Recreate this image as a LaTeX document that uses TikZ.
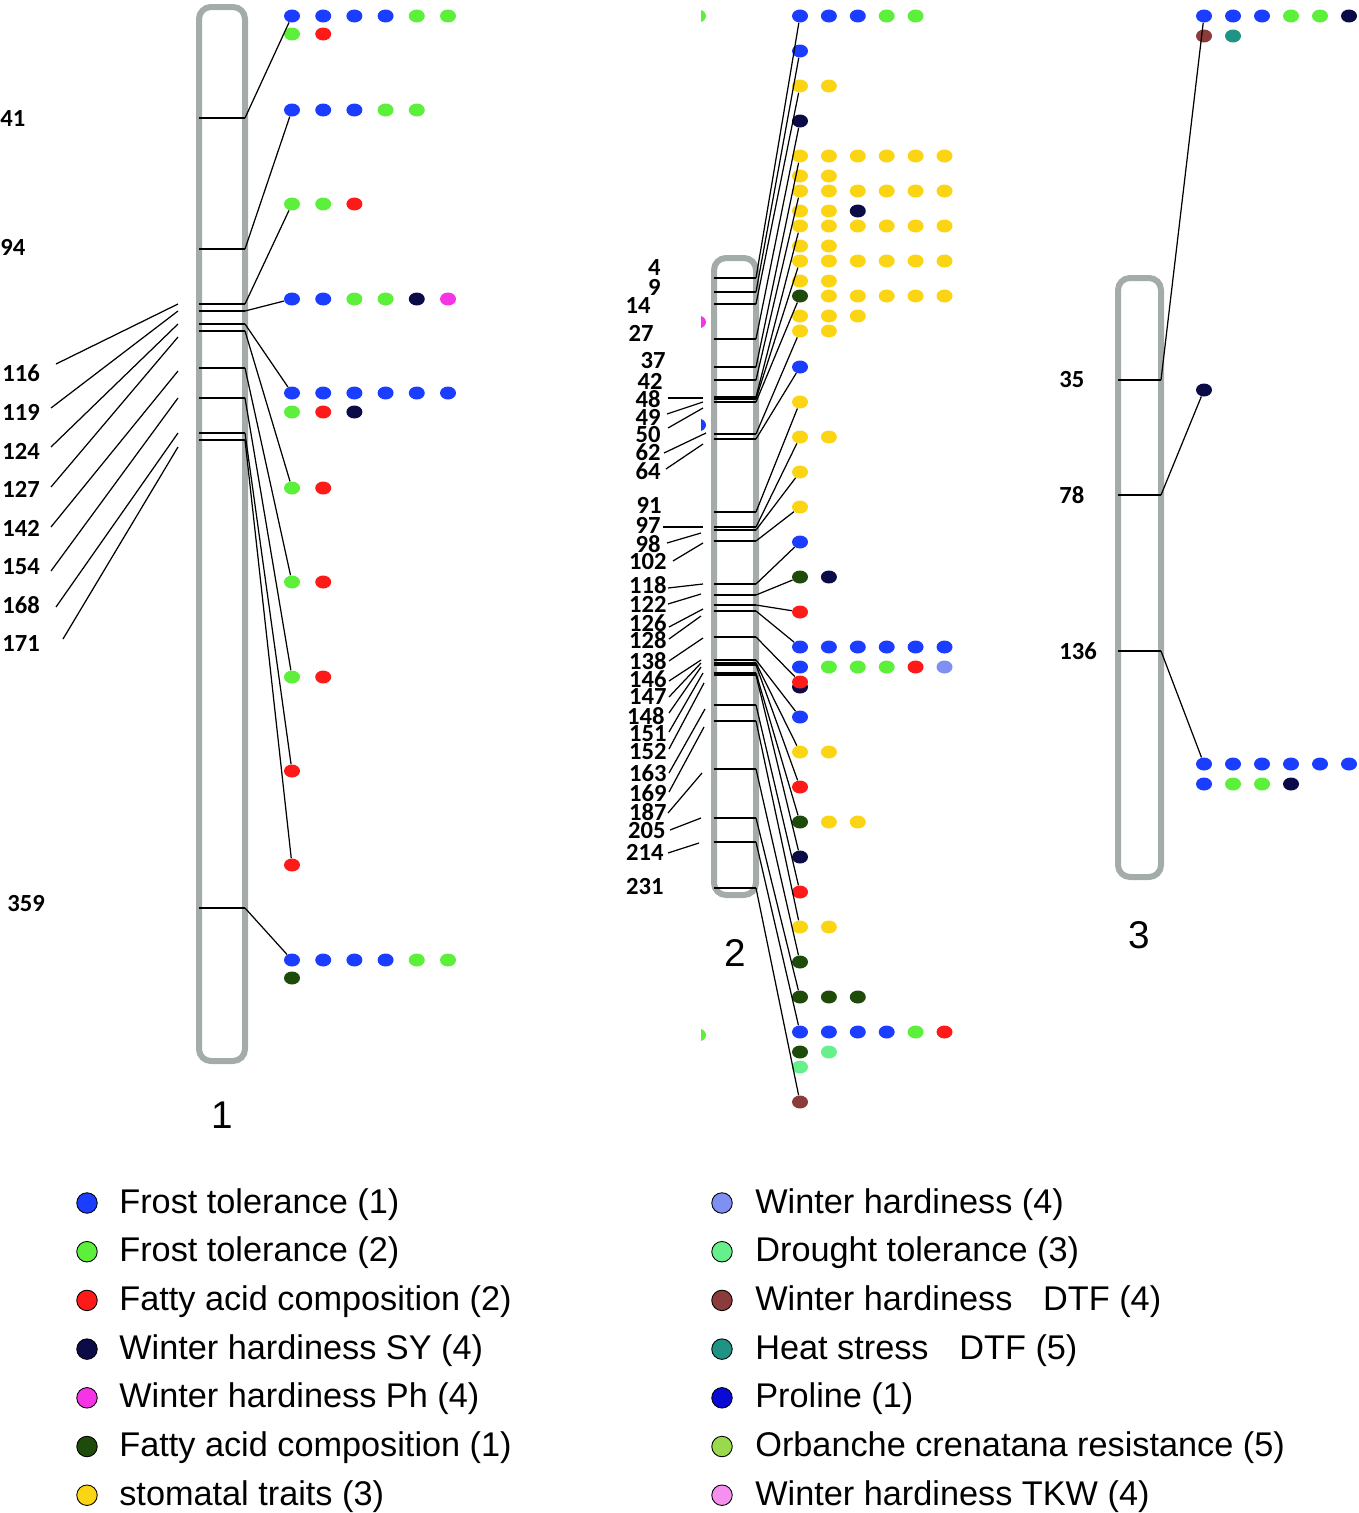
\documentclass[tikz,border=0pt]{standalone}
\usepackage{fontspec}
\setmainfont{Liberation Sans}
\newfontfamily\numfont{Carlito}
\usetikzlibrary{shapes.geometric}

\definecolor{ftone}{HTML}{1A3DFF}
\definecolor{fttwo}{HTML}{5CF03A}
\definecolor{facred}{HTML}{FF1A1A}
\definecolor{whsy}{HTML}{0B0B48}
\definecolor{whph}{HTML}{F534E6}
\definecolor{facgreen}{HTML}{1E4A0A}
\definecolor{stomatal}{HTML}{FBD414}
\definecolor{whfour}{HTML}{8090F2}
\definecolor{drought}{HTML}{66F08C}
\definecolor{whdtf}{HTML}{8C3B3B}
\definecolor{heatdtf}{HTML}{1F9485}
\definecolor{proline}{HTML}{0A0AD6}
\definecolor{orbanche}{HTML}{9AD94C}
\definecolor{whtkw}{HTML}{F590F0}
\definecolor{chromgray}{HTML}{A4ACA9}

\tikzset{
  qtl/.style={ellipse, fill=#1, minimum width=3.2mm, minimum height=2.6mm, inner sep=0pt},
  chrom/.style={draw=chromgray, line width=1.2mm, rounded corners=2.4mm},
  marker/.style={line width=0.9pt},
  link/.style={line width=0.7pt},
  locus/.style={font=\numfont\bfseries\fontsize{14}{14}\selectfont, inner sep=0pt},
  keydot/.style={circle, draw=black, line width=0.5pt, fill=#1, minimum size=4.1mm, inner sep=0pt},
  keytext/.style={anchor=base west, font=\fontsize{19.5}{19.5}\selectfont, inner sep=0pt},
  chromname/.style={font=\fontsize{22}{22}\selectfont, inner sep=0pt}
}

\begin{document}
\begin{tikzpicture}[x=0.2mm, y=-0.2mm]
\useasboundingbox (0,0) rectangle (1358,1513);

% chromosomes
\draw[chrom] (199,7) rectangle (245,1061);
\draw[chrom] (714,258) rectangle (756,895);
\draw[chrom] (1118,278) rectangle (1161,877);

\node[chromname] (n1) at (222,1115) {1};
\node[chromname] (n2) at (735,953) {2};
\node[chromname] (n3) at (1139,935) {3};

% chromosome 1
\foreach \p/\y in {41/118,94/249,116/304,119/311,124/324,127/331,142/368,154/398,168/433,171/440,359/908}
{
  \coordinate (a1-\p) at (199,\y);
  \coordinate (m1-\p) at (245,\y);
  \draw[marker] (a1-\p) -- (m1-\p);
}

\node[locus, anchor=west] (p1-41) at (0,119) {41};
\node[locus, anchor=west] (p1-94) at (0,247) {94};
\foreach \p/\y in {116/373,119/412,124/451,127/489,142/528,154/567,168/605,171/644}
  \node[locus, anchor=west] (p1-\p) at (2,\y) {\p};
\node[locus, anchor=west] (p1-359) at (7,904) {359};

\foreach \p/\xa/\ya/\yb in {116/56/364/304,119/51/408/311,124/51/447/324,127/51/487/337,142/51/527/371,154/51/571/398,168/56/607/433,171/63/639/447}
{
  \coordinate (l1-\p) at (\xa,\ya);
  \coordinate (e1-\p) at (178,\yb);
  \draw[link] (l1-\p) -- (e1-\p);
}

\foreach \y/\n/\cols in {16/a/{ftone,ftone,ftone,ftone,fttwo,fttwo}, 34/a2/{fttwo,facred},
  110/b/{ftone,ftone,ftone,fttwo,fttwo}, 204/c/{fttwo,fttwo,facred},
  299/d/{ftone,ftone,fttwo,fttwo,whsy,whph}, 393/e/{ftone,ftone,ftone,ftone,ftone,ftone},
  412/e2/{fttwo,facred,whsy}, 488/f/{fttwo,facred}, 582/g/{fttwo,facred}, 677/h/{fttwo,facred},
  771/i/{facred}, 865/j/{facred}, 960/k/{ftone,ftone,ftone,ftone,fttwo,fttwo}, 978/k2/{facgreen}}
{
  \foreach \c [count=\k] in \cols
    \node[qtl=\c] (c1\n-\k) at ({292+31.2*(\k-1)},\y) {};
}

\foreach \p/\n in {41/a,94/b,116/c,119/d,124/e,127/f,142/g,154/h,168/i,171/j,359/k}
  \draw[link] (m1-\p) -- (c1\n-1);

% chromosome 2
\foreach \p/\y in {4/278,9/292,14/304,27/339,37/367,42/380,48/397,49/399,50/402,62/434,64/439,91/512,97/527,98/530,102/541,118/584,122/595,126/605,128/611,138/637,146/660,147/663,148/665,151/673,152/675,163/705,169/721,187/769,205/818,214/842,231/888}
{
  \coordinate (a2-\p) at (714,\y);
  \coordinate (m2-\p) at (756,\y);
  \draw[marker] (a2-\p) -- (m2-\p);
}

\foreach \p/\x/\y in {4/661/268,9/661/287,14/651/306,27/654/333,37/666/361,42/663/381,48/661/399,49/661/417,50/661/435,62/661/452,64/661/471,91/662/505,97/661/525,98/661/544,102/667/562,118/667/585,122/667/604,126/667/623,128/667/640,138/667/661,146/667/679,147/667/697,148/665/716,151/667/734,152/667/752,163/667/773,169/667/793,187/667/812,205/666/831,214/664/852,231/664/887}
  \node[locus, anchor=east] (p2-\p) at (\x,\y) {\p};

\foreach \p/\xa/\ya/\xb/\yb in {48/668/398/703/398,49/667/414/703/402,50/668/428/703/408,62/664/453/706/433,64/666/469/703/444,97/663/527/703/527,98/667/543/701/533,102/673/561/703/543,118/668/588/703/584,122/668/604/701/594,126/669/627/703/609,128/669/639/701/616,138/669/661/703/638,146/669/681/701/660,147/669/697/701/663,148/669/713/701/667,151/669/732/703/673,152/669/749/704/683,163/669/773/705/709,169/669/792/704/727,187/668/813/702/773,205/670/830/701/818,214/668/853/699/843}
{
  \coordinate (l2-\p) at (\xa,\ya);
  \coordinate (e2-\p) at (\xb,\yb);
  \draw[link] (l2-\p) -- (e2-\p);
}

\foreach \y/\n/\cols in {16/r1/{ftone,ftone,ftone,fttwo,fttwo}, 51/r2/{ftone}, 86/r3/{stomatal,stomatal},
  121/r4/{whsy}, 156/r5/{stomatal,stomatal,stomatal,stomatal,stomatal,stomatal}, 176/r6/{stomatal,stomatal},
  191/r7/{stomatal,stomatal,stomatal,stomatal,stomatal,stomatal}, 211/r8/{stomatal,stomatal,whsy},
  226/r9/{stomatal,stomatal,stomatal,stomatal,stomatal,stomatal}, 246/r10/{stomatal,stomatal},
  261/r11/{stomatal,stomatal,stomatal,stomatal,stomatal,stomatal}, 281/r12/{stomatal,stomatal},
  296/r13/{facgreen,stomatal,stomatal,stomatal,stomatal,stomatal}, 316/r14/{stomatal,stomatal,stomatal},
  331/r15/{stomatal,stomatal}, 367/r16/{ftone}, 402/r17/{stomatal}, 437/r18/{stomatal,stomatal},
  472/r19/{stomatal}, 507/r20/{stomatal}, 542/r21/{ftone}, 577/r22/{facgreen,whsy}, 612/r23/{facred},
  647/r24/{ftone,ftone,ftone,ftone,ftone,ftone}, 667/r25/{ftone,fttwo,fttwo,fttwo,facred,whfour},
  687/r26b/{whsy}, 682/r26/{facred}, 717/r27/{ftone}, 752/r28/{stomatal,stomatal}, 787/r29/{facred},
  822/r30/{facgreen,stomatal,stomatal}, 857/r31/{whsy}, 892/r32/{facred}, 927/r33/{stomatal,stomatal},
  962/r34/{facgreen}, 997/r35/{facgreen,facgreen,facgreen}, 1032/r36/{ftone,ftone,ftone,ftone,fttwo,facred},
  1052/r37/{facgreen,drought}, 1067/r38/{drought}, 1102/r39/{whdtf}}
{
  \foreach \c [count=\k] in \cols
    \node[qtl=\c] (c2\n-\k) at ({800+28.9*(\k-1)},\y) {};
}

\foreach \p/\n in {4/r1,9/r2,14/r3,27/r4,37/r5,42/r7,48/r9,49/r11,50/r13,62/r15,64/r16,91/r17,97/r18,98/r19,102/r20,118/r21,122/r22,126/r23,128/r24,138/r26,146/r27,147/r28,148/r29,151/r30,152/r31,163/r32,169/r33,187/r34,205/r35,214/r36,231/r39}
  \draw[link] (m2-\p) -- (c2\n-1);

\begin{scope}
  \clip (701,0) rectangle (712,1110);
  \foreach \y/\c in {16/fttwo,322/whph,425/ftone,1035/fttwo}
    \fill[\c] (698,\y) ellipse (8 and 6.5);
\end{scope}

% chromosome 3
\foreach \p/\y in {35/380,78/495,136/651}
{
  \coordinate (a3-\p) at (1118,\y);
  \coordinate (m3-\p) at (1161,\y);
  \draw[marker] (a3-\p) -- (m3-\p);
  \node[locus, anchor=west] (p3-\p) at (1059,\y) {\p};
}

\foreach \y/\n/\cols in {16/t1/{ftone,ftone,ftone,fttwo,fttwo,whsy}, 36/t1b/{whdtf,heatdtf}, 390/t2/{whsy},
  764/t3/{ftone,ftone,ftone,ftone,ftone,ftone}, 784/t3b/{ftone,fttwo,fttwo,whsy}}
{
  \foreach \c [count=\k] in \cols
    \node[qtl=\c] (c3\n-\k) at ({1204+29*(\k-1)},\y) {};
}

\foreach \p/\n in {35/t1,78/t2,136/t3}
  \draw[link] (m3-\p) -- (c3\n-1);

% legend
\foreach \c/\t [count=\i from 0] in {ftone/{Frost tolerance (1)}, fttwo/{Frost tolerance (2)},
  facred/{Fatty acid composition (2)}, whsy/{Winter hardiness SY (4)}, whph/{Winter hardiness Ph (4)},
  facgreen/{Fatty acid composition (1)}, stomatal/{stomatal traits (3)}}
{
  \node[keydot=\c] (kl\i) at (87,{1203+48.7*\i}) {};
  \node[keytext] (tl\i) at (119,{1213+48.7*\i}) {\t};
}
\foreach \c/\t [count=\i from 0] in {whfour/{Winter hardiness (4)}, drought/{Drought tolerance (3)},
  whdtf/{Winter hardiness\hspace{17.5pt}DTF (4)}, heatdtf/{Heat stress\hspace{17.5pt}DTF (5)},
  proline/{Proline (1)}, orbanche/{Orbanche crenatana resistance (5)}, whtkw/{Winter hardiness TKW (4)}}
{
  \node[keydot=\c] (kr\i) at (722,{1203+48.7*\i}) {};
  \node[keytext] (tr\i) at (755,{1213+48.7*\i}) {\t};
}
\end{tikzpicture}
\end{document}
